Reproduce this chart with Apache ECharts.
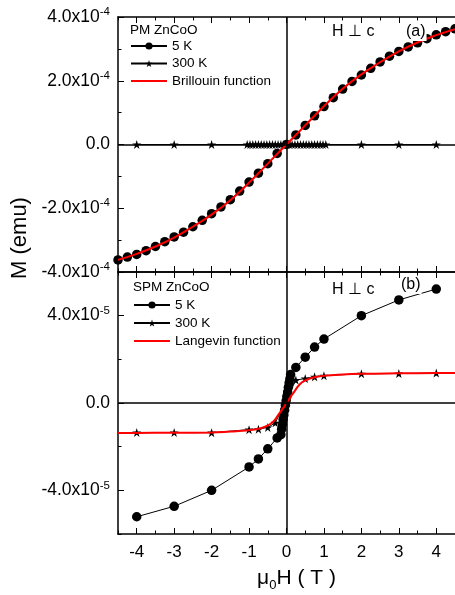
<!DOCTYPE html>
<html>
<head>
<meta charset="utf-8">
<script src="https://cdn.jsdelivr.net/npm/echarts@6/dist/echarts.min.js"></script>
<style>
html,body{margin:0;padding:0;background:#fff;}
#c{width:455px;height:595px;}
</style>
</head>
<body>
<div id="c"></div>
<script>
// ---------- DATA ----------
// x ticks (Tesla)
const xTickLabels = [-4, -3, -2, -1, 0, 1, 2, 3, 4];
// top panel (a): M in units of 1e-4 emu
const topYTicks = [-4, -2, 0, 2, 4];
const topH5K = [-4.5,-4.25,-4,-3.75,-3.5,-3.25,-3,-2.75,-2.5,-2.25,-2,-1.75,-1.5,-1.25,-1,-0.75,-0.5,-0.25,0,
                0.25,0.5,0.75,1,1.25,1.5,1.75,2,2.25,2.5,2.75,3,3.25,3.5,3.75,4,4.25,4.5];
const topM5K = [-3.62,-3.53,-3.45,-3.33,-3.2,-3.05,-2.9,-2.75,-2.58,-2.38,-2.17,-1.96,-1.73,-1.46,-1.18,-0.9,-0.6,-0.28,0,
                0.3,0.6,0.9,1.19,1.47,1.74,1.98,2.18,2.39,2.59,2.77,2.92,3.06,3.19,3.32,3.44,3.54,3.63];
const topH300K = [-4,-3,-2,-1.05,-0.975,-0.9,-0.825,-0.75,-0.675,-0.6,-0.525,-0.45,-0.375,-0.3,-0.225,-0.15,-0.075,0,
                  0.075,0.15,0.225,0.3,0.375,0.45,0.525,0.6,0.675,0.75,0.825,0.9,0.975,1.05,2,3,4];
const topM300K = [0,0,0,0,0,0,0,0,0,0,0,0,0,0,0,0,0,0,
                  0,0,0,0,0,0,0,0,0,0,0,0,0,0,0,0,0];
const brillH = [-4.5,-4,-3.5,-3,-2.5,-2,-1.5,-1,-0.5,0,0.5,1,1.5,2,2.5,3,3.5,4,4.5];
const brillM = [-3.62,-3.43,-3.2,-2.92,-2.58,-2.2,-1.75,-1.2,-0.6,0,0.6,1.2,1.75,2.2,2.58,2.92,3.2,3.43,3.62];
// bottom panel (b): M in units of 1e-5 emu
const botYTicks = [-4, 0, 4];
const botH5K = [-4,-3,-2,-1,-0.75,-0.5,-0.25,-0.15,-0.13,-0.11,-0.09,-0.07,-0.05,-0.03,-0.01,0.01,0.03,0.05,0.07,0.09,0.11,0.25,0.5,0.75,1,2,3,4];
const botM5K = [-5.21,-4.73,-4.0,-2.93,-2.56,-2.1,-1.6,-1.45,-1.2,-0.98,-0.75,-0.55,-0.33,-0.1,0.1,0.3,0.5,0.72,0.92,1.1,1.3,1.63,2.1,2.56,2.93,4.0,4.72,5.22];
const botH300K = [-4,-3,-2,-1,-0.75,-0.5,-0.3,0.25,0.5,0.75,1,2,3,4];
const botM300K = [-1.35,-1.35,-1.36,-1.22,-1.2,-1.12,-0.91,1.05,1.12,1.2,1.25,1.34,1.35,1.37];
const langH = [-4.5,-4,-3,-2,-1.5,-1,-0.75,-0.5,-0.35,-0.2,-0.1,0,0.1,0.2,0.35,0.5,0.75,1,1.5,2,3,4,4.5];
const langM = [-1.37,-1.37,-1.36,-1.35,-1.31,-1.25,-1.18,-1.03,-0.85,-0.5,-0.26,0,0.26,0.5,0.85,1.03,1.18,1.25,1.31,1.34,1.36,1.37,1.37];

// ---------- helpers ----------
const FONT = '"Liberation Sans", Arial, Helvetica, sans-serif';
const zip = (a, b) => a.map((v, i) => [v, b[i]]);
const STAR = 'path://M50,0 L61.2,34.5 97.6,34.5 68.2,55.9 79.4,90.5 50,69.1 20.6,90.5 31.8,55.9 2.4,34.5 38.8,34.5 Z';

function xMajor(gi, pos, showLabel) {
  return {
    type: 'value', gridIndex: gi, position: pos, min: -4.5, max: 4.5, interval: 0.5,
    axisLine: {show: true, onZero: false, lineStyle: {color: '#000', width: 1.5}},
    axisTick: {show: true, inside: true, length: 6, customValues: xTickLabels, lineStyle: {color: '#000', width: 1}},
    axisLabel: {show: showLabel, customValues: xTickLabels, color: '#000', fontSize: 17, fontFamily: FONT, margin: 10,
                formatter: v => String(v)},
    splitLine: {show: false},
    name: showLabel ? '{a|\u03bc}{b|0}{a|H ( T )}' : '',
    nameLocation: 'middle', nameGap: 30,
    nameTextStyle: {padding: [0, 0, 0, 20], rich: {
      a: {fontSize: 21, fontFamily: FONT, color: '#000', lineHeight: 28},
      b: {fontSize: 13, fontFamily: FONT, color: '#000', lineHeight: 12, verticalAlign: 'bottom'}
    }}
  };
}
function xMinor(gi, pos) {
  return {
    type: 'value', gridIndex: gi, position: pos, min: -4.5, max: 4.5, interval: 0.5,
    axisLine: {show: false, onZero: false},
    axisTick: {show: true, inside: true, length: 3.5, lineStyle: {color: '#000', width: 1}},
    axisLabel: {show: false}, splitLine: {show: false}
  };
}
function yMajor(gi, min, max, ticks, exp) {
  return {
    type: 'value', gridIndex: gi, position: 'left', min: min, max: max, interval: 2,
    axisLine: {show: true, onZero: false, lineStyle: {color: '#000', width: 1.5}},
    axisTick: {show: true, inside: true, length: 6, customValues: ticks, lineStyle: {color: '#000', width: 1}},
    axisLabel: {show: true, customValues: ticks, margin: 8,
      formatter: v => v === 0 ? '{m|0.0}' : '{m|' + v.toFixed(1) + 'x10}{s|' + exp + '}',
      rich: {
        m: {fontSize: 17.5, fontFamily: FONT, color: '#000', lineHeight: 22},
        s: {fontSize: 11.5, fontFamily: FONT, color: '#000', lineHeight: 11, verticalAlign: 'top'}
      }},
    splitLine: {show: false}
  };
}
function yMinor(gi, min, max, step) {
  return {
    type: 'value', gridIndex: gi, position: 'left', min: min, max: max, interval: step,
    axisLine: {show: false, onZero: false},
    axisTick: {show: true, inside: true, length: 3.5, lineStyle: {color: '#000', width: 1}},
    axisLabel: {show: false}, splitLine: {show: false}
  };
}
const zeroLines = {
  silent: true, symbol: ['none', 'none'], label: {show: false},
  lineStyle: {color: '#000', width: 1.5, type: 'solid'},
  emphasis: {disabled: true},
  data: [{xAxis: 0}, {yAxis: 0}]
};
const hiddenSym = {opacity: 0};
const legendText = {fontSize: 13.5, fontFamily: FONT, color: '#000'};

const chart = echarts.init(document.getElementById('c'), null, {renderer: 'canvas'});
const option = {
  animation: false,
  backgroundColor: '#fff',
  grid: [
    {left: 118, top: 17, width: 337.5, height: 255, containLabel: false},
    {left: 118, top: 272, width: 337.5, height: 262, containLabel: false}
  ],
  xAxis: [
    xMajor(0, 'bottom', false), xMinor(0, 'bottom'), xMajor(0, 'top', false), xMinor(0, 'top'),
    xMajor(1, 'bottom', true), xMinor(1, 'bottom'), xMajor(1, 'top', false), xMinor(1, 'top')
  ],
  yAxis: [
    yMajor(0, -4, 4, topYTicks, '-4'), yMinor(0, -4, 4, 1),
    yMajor(1, -6, 6, botYTicks, '-5'), yMinor(1, -6, 6, 2)
  ],
  legend: [
    {left: 130, top: 39, padding: 0, orient: 'vertical', itemWidth: 36, itemHeight: 9, itemGap: 3.5,
     textStyle: legendText, selectedMode: false,
     data: ['5 K', '300 K', {name: 'Brillouin function', itemStyle: hiddenSym}]},
    {left: 133, top: 298, padding: 0, orient: 'vertical', itemWidth: 36, itemHeight: 9, itemGap: 4,
     textStyle: legendText, selectedMode: false,
     data: ['5 K', '300 K', {name: 'Langevin function', itemStyle: hiddenSym}]}
  ],
  graphic: [
    {type: 'text', x: 20, y: 238, rotation: Math.PI / 2, z: 100,
     style: {text: 'M (emu)', font: '22px ' + FONT, fill: '#000', align: 'center', verticalAlign: 'middle'}},
    {type: 'text', x: 130, y: 30, z: 100,
     style: {text: 'PM ZnCoO', font: '13.5px ' + FONT, fill: '#000', align: 'left', verticalAlign: 'middle'}},
    {type: 'text', x: 133, y: 287, z: 100,
     style: {text: 'SPM ZnCoO', font: '13.5px ' + FONT, fill: '#000', align: 'left', verticalAlign: 'middle'}},
    {type: 'text', x: 332, y: 32, z: 100,
     style: {text: 'H \u22a5 c', font: '16px ' + FONT, fill: '#000', align: 'left', verticalAlign: 'middle'}},
    {type: 'text', x: 405, y: 32, z: 100,
     style: {text: '(a)', font: '16px ' + FONT, fill: '#000', align: 'left', verticalAlign: 'middle',
             backgroundColor: '#fff', padding: [1, 1, 1, 1]}},
    {type: 'text', x: 332, y: 290, z: 100,
     style: {text: 'H \u22a5 c', font: '16px ' + FONT, fill: '#000', align: 'left', verticalAlign: 'middle'}},
    {type: 'text', x: 400, y: 285, z: 100,
     style: {text: '(b)', font: '16px ' + FONT, fill: '#000', align: 'left', verticalAlign: 'middle',
             backgroundColor: '#fff', padding: [1, 1, 1, 1]}}
  ],
  series: [
    {name: '5 K', type: 'line', xAxisIndex: 0, yAxisIndex: 0, data: zip(topH5K, topM5K),
     symbol: 'circle', symbolSize: 9.5, itemStyle: {color: '#000'}, lineStyle: {color: '#000', width: 1},
     markLine: zeroLines, z: 2},
    {name: '300 K', type: 'line', xAxisIndex: 0, yAxisIndex: 0, data: zip(topH300K, topM300K),
     symbol: STAR, symbolSize: 9, itemStyle: {color: '#000'}, lineStyle: {color: '#000', width: 1}, z: 2},
    {name: 'Brillouin function', type: 'line', xAxisIndex: 0, yAxisIndex: 0, data: zip(brillH, brillM),
     symbol: 'none', smooth: true, lineStyle: {color: '#ff0000', width: 2}, itemStyle: {color: '#ff0000'}, z: 3},

    {name: '5 K', type: 'line', xAxisIndex: 4, yAxisIndex: 2, data: zip(botH5K, botM5K),
     symbol: 'circle', symbolSize: 9.5, itemStyle: {color: '#000'}, lineStyle: {color: '#000', width: 1},
     markLine: zeroLines, z: 2},
    {name: '300 K', type: 'line', xAxisIndex: 4, yAxisIndex: 2, data: zip(botH300K, botM300K),
     symbol: STAR, symbolSize: 9, itemStyle: {color: '#000'}, lineStyle: {color: '#000', width: 1}, z: 2},
    {name: 'Langevin function', type: 'line', xAxisIndex: 4, yAxisIndex: 2, data: zip(langH, langM),
     symbol: 'none', smooth: true, lineStyle: {color: '#ff0000', width: 2}, itemStyle: {color: '#ff0000'}, z: 3}
  ]
};
chart.setOption(option);
</script>
</body>
</html>
